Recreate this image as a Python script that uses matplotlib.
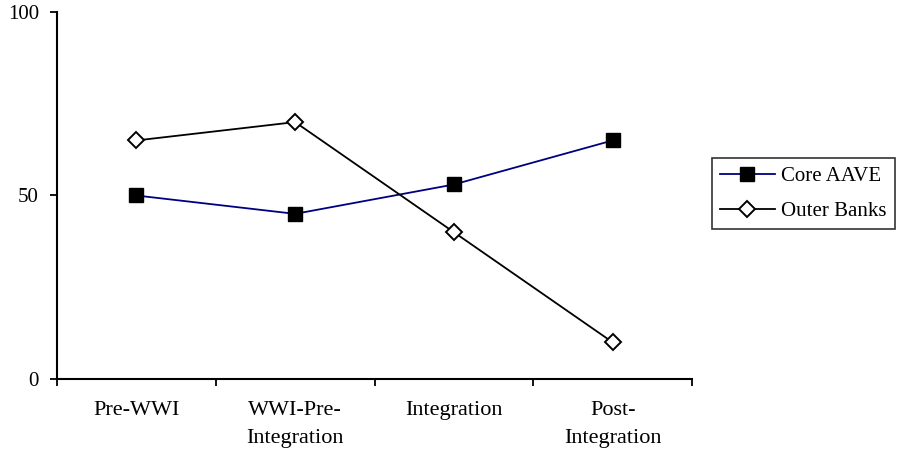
import matplotlib
matplotlib.use("Agg")
import matplotlib.pyplot as plt
import numpy as np

periods = ["Pre-WWI", "WWI-Pre-\nIntegration", "Integration", "Post-\nIntegration"]
core_aave = [50, 45, 53, 65]
outer_banks = [65, 70, 40, 10]
y_ticks = [0, 50, 100]

plt.rcParams["font.family"] = ["Liberation Serif", "DejaVu Serif"]

fig = plt.figure(figsize=(8.97, 4.53), dpi=100)
ax = fig.add_axes([57 / 897, 74 / 453, 635 / 897, 367 / 453])

x = np.arange(len(periods))
ax.plot(x, core_aave, color="#000080", lw=1.3, marker="s", ms=10,
        mfc="black", mec="black", label="Core AAVE")
ax.plot(x, outer_banks, color="black", lw=1.3, marker="D", ms=8.5,
        mfc="white", mec="black", mew=1.4, label="Outer Banks")

ax.set_xlim(-0.5, len(periods) - 0.5)
ax.set_ylim(0, 100)
ax.set_yticks(y_ticks)
ax.set_yticklabels([str(v) for v in y_ticks], fontsize=15)

# category labels centred, tick marks at the category boundaries
ax.set_xticks(x)
ax.set_xticklabels(periods, fontsize=16, linespacing=1.6)
ax.tick_params(axis="x", which="major", length=0, pad=16)
ax.set_xticks(np.arange(-0.5, len(periods)), minor=True)
ax.tick_params(axis="x", which="minor", length=5, width=1.3, direction="out")
ax.tick_params(axis="y", length=5, width=1.3, direction="out", pad=8)

for side in ("top", "right"):
    ax.spines[side].set_visible(False)
for side in ("left", "bottom"):
    ax.spines[side].set_linewidth(1.5)

leg = fig.legend(loc="upper left", bbox_to_anchor=(712 / 897, 295 / 453),
                 fontsize=15, frameon=True, fancybox=False, edgecolor="black",
                 handlelength=2.6, handletextpad=0.3, borderpad=0.4,
                 labelspacing=0.75, borderaxespad=0)
leg.get_frame().set_linewidth(1.2)

fig.savefig("out.png", dpi=100)
